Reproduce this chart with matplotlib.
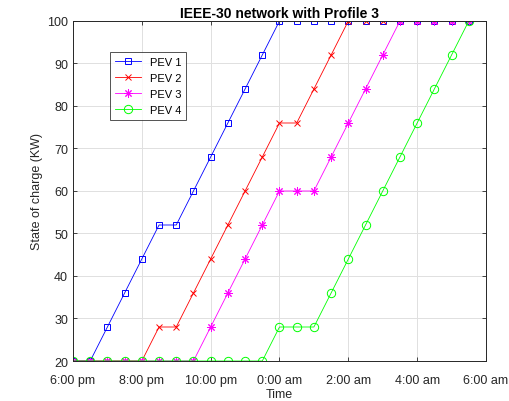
#!/usr/bin/env python3
"""
State of charge of four PEVs over the night, IEEE-30 network, profile 3.
"""

import matplotlib
matplotlib.use("Agg")
import matplotlib.pyplot as plt
import numpy as np

# hours after 6:00 pm, half-hour steps
hours = np.arange(0, 12, 0.5)

pev1 = [20, 20, 28, 36, 44, 52, 52, 60, 68, 76, 84, 92,
        100, 100, 100, 100, 100, 100, 100, 100, 100, 100, 100, 100]
pev2 = [20, 20, 20, 20, 20, 28, 28, 36, 44, 52, 60, 68,
        76, 76, 84, 92, 100, 100, 100, 100, 100, 100, 100, 100]
pev3 = [20, 20, 20, 20, 20, 20, 20, 20, 28, 36, 44, 52,
        60, 60, 60, 68, 76, 84, 92, 100, 100, 100, 100, 100]
pev4 = [20, 20, 20, 20, 20, 20, 20, 20, 20, 20, 20, 20,
        28, 28, 28, 36, 44, 52, 60, 68, 76, 84, 92, 100]

tick_hours = [0, 2, 4, 6, 8, 10, 12]
tick_labels = ["6:00 pm", "8:00 pm", "10:00 pm", "0:00 am",
               "2:00 am", "4:00 am", "6:00 am"]

TEXT_COLOR = "#262626"

plt.rcParams["font.family"] = ["Liberation Sans", "DejaVu Sans"]
plt.rcParams["font.size"] = 7.5

fig = plt.figure(figsize=(5.09, 4.02), dpi=100)
ax = fig.add_axes([0.1434, 0.0995, 0.8114, 0.8458])

# MATLAB-like asterisk: 8 arms
asterisk = (8, 2, 0)

series = [
    ("PEV 1", pev1, "#0000ff", "s", 5.0),
    ("PEV 2", pev2, "#ff0000", "x", 5.0),
    ("PEV 3", pev3, "#ff00ff", asterisk, 6.0),
    ("PEV 4", pev4, "#00ff00", "o", 6.0),
]
for label, values, color, marker, size in series:
    ax.plot(hours, values, color=color, marker=marker, linewidth=0.6,
            markersize=size, markeredgewidth=0.7, markerfacecolor="none",
            label=label)

ax.set_xlim(0, 12)
ax.set_ylim(20, 100)
ax.set_xticks(tick_hours)
ax.set_xticklabels(tick_labels)
ax.set_yticks(np.arange(20, 101, 10))
ax.tick_params(direction="in", length=3, width=0.6, colors=TEXT_COLOR,
               labelsize=9, top=True, right=True, labeltop=False, labelright=False)
ax.tick_params(axis="x", pad=9)
ax.grid(True, color="#e0e0e0", linewidth=0.7)
ax.set_axisbelow(True)
for spine in ax.spines.values():
    spine.set_color(TEXT_COLOR)
    spine.set_linewidth(0.7)

ax.set_title("IEEE-30 network with Profile 3", fontsize=10, fontweight="bold",
             color="black", pad=3)
ax.set_xlabel("Time", fontsize=9, color=TEXT_COLOR, labelpad=1.5)
ax.set_ylabel("State of charge (KW)", fontsize=9, color=TEXT_COLOR, labelpad=3)

leg = ax.legend(loc="upper left", bbox_to_anchor=(0.09, 0.91), fontsize=8,
                frameon=True, fancybox=False, edgecolor=TEXT_COLOR,
                borderpad=0.45, labelspacing=0.55, handlelength=2.3,
                borderaxespad=0)
leg.get_frame().set_linewidth(0.7)

fig.savefig("out.png", dpi=100)
plt.close(fig)
